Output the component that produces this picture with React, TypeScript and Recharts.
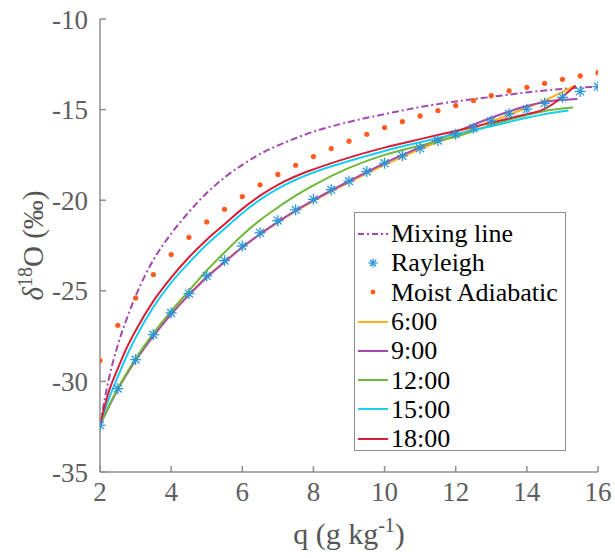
import React from 'react';
import { ComposedChart, Line, XAxis, YAxis, Legend, Label } from 'recharts';

// q grid used by the Rayleigh and moist adiabatic curves (g/kg)
const qHalf = [2, 2.5, 3, 3.5, 4, 4.5, 5, 5.5, 6, 6.5, 7, 7.5, 8, 8.5, 9, 9.5, 10, 10.5, 11, 11.5, 12, 12.5, 13, 13.5, 14, 14.5, 15, 15.5, 16];
const rayleigh = [-32.42, -30.4, -28.8, -27.42, -26.22, -25.15, -24.18, -23.33, -22.53, -21.8, -21.13, -20.53, -19.95, -19.42, -18.95, -18.42, -17.96, -17.55, -17.13, -16.71, -16.36, -16.02, -15.63, -15.24, -14.98, -14.65, -14.32, -14.0, -13.73];
const moistAdiabatic = [-28.85, -26.9, -25.4, -24.1, -23.0, -22.05, -21.2, -20.5, -19.8, -19.15, -18.58, -18.07, -17.59, -17.15, -16.74, -16.36, -15.99, -15.66, -15.35, -15.05, -14.78, -14.5, -14.23, -13.97, -13.77, -13.55, -13.33, -13.14, -12.96];

const mixQ = [2, 2.25, 2.5, 2.75, 3, 3.5, 4, 4.5, 5, 5.5, 6, 6.5, 7, 7.5, 8, 8.5, 9, 10, 11, 12, 13, 14, 15, 16];
const mixD = [-32.4, -29.85, -28.0, -26.55, -25.3, -23.3, -21.85, -20.65, -19.6, -18.75, -18.05, -17.45, -16.98, -16.58, -16.22, -15.93, -15.68, -15.25, -14.86, -14.55, -14.3, -14.05, -13.86, -13.73];

const q06 = [2, 2.5, 3, 3.5, 4, 4.5, 5, 5.5, 6, 7, 8, 9, 10, 11, 12, 13, 14, 14.5, 15.35];
const d06 = [-32.4, -30.42, -28.82, -27.45, -26.25, -25.2, -24.23, -23.38, -22.6, -21.22, -20.05, -19.02, -18.05, -17.18, -16.4, -15.65, -14.9, -14.5, -13.68];

const q09 = [2, 2.5, 3, 3.5, 4, 4.5, 5, 5.5, 6, 7, 8, 9, 10, 11, 12, 13, 14, 14.5, 15, 15.42];
const d09 = [-32.4, -30.45, -28.85, -27.5, -26.3, -25.24, -24.27, -23.42, -22.6, -21.2, -20.0, -18.95, -17.95, -17.08, -16.24, -15.45, -14.8, -14.58, -14.46, -14.41];

const q12 = [2, 2.5, 3, 3.5, 4, 4.5, 5, 5.5, 6, 6.5, 7, 7.5, 8, 9, 10, 11, 12, 13, 14, 14.5, 15.3];
const d12 = [-32.4, -30.4, -28.75, -27.35, -26.12, -25.0, -23.88, -22.88, -21.93, -21.1, -20.4, -19.75, -19.18, -18.22, -17.5, -16.98, -16.5, -15.85, -15.3, -15.08, -14.89];

const q15 = [2, 2.25, 2.5, 2.75, 3, 3.5, 4, 4.5, 5, 5.5, 6, 6.5, 7, 7.5, 8, 9, 10, 11, 12, 13, 14, 14.5, 15.17];
const d15 = [-32.4, -30.95, -29.75, -28.6, -27.6, -25.9, -24.55, -23.45, -22.45, -21.58, -20.72, -19.97, -19.36, -18.87, -18.47, -17.84, -17.28, -16.8, -16.35, -15.92, -15.45, -15.25, -15.05];

const q18 = [2, 2.25, 2.5, 2.75, 3, 3.5, 4, 4.5, 5, 5.5, 6, 6.5, 7, 7.5, 8, 9, 10, 11, 12, 13, 14, 14.37, 15.37];
const d18 = [-32.4, -30.55, -29.3, -28.15, -27.2, -25.57, -24.27, -23.15, -22.18, -21.33, -20.48, -19.75, -19.15, -18.68, -18.3, -17.65, -17.1, -16.63, -16.18, -15.72, -15.25, -15.07, -13.67];

const xTicks = [2, 4, 6, 8, 10, 12, 14, 16];
const yTicks = [-35, -30, -25, -20, -15, -10];

const zip = (qs: number[], ds: number[]) => qs.map((q, i) => ({ q, d: ds[i] }));

const FONT = '"Liberation Serif", "Times New Roman", serif';
const AXIS = '#8e8e8e';
const TICK_TEXT = '#5e5e5e';

const MIX_COLOR = '#a548b0';
const RAYLEIGH_COLOR = '#2996d8';
const MOIST_COLOR = '#ff5a1f';

const timeSeries = [
  { name: '6:00', color: '#ffb21a', data: zip(q06, d06) },
  { name: '9:00', color: '#a548b0', data: zip(q09, d09) },
  { name: '12:00', color: '#6fb83a', data: zip(q12, d12) },
  { name: '15:00', color: '#18cdf2', data: zip(q15, d15) },
  { name: '18:00', color: '#d81e36', data: zip(q18, d18) },
];

const Star = ({ cx, cy, r = 5.5 }: { cx: number; cy: number; r?: number }) => {
  const d = r * 0.71;
  return (
    <g stroke={RAYLEIGH_COLOR} strokeWidth={1.3}>
      <line x1={cx - r} y1={cy} x2={cx + r} y2={cy} />
      <line x1={cx} y1={cy - r} x2={cx} y2={cy + r} />
      <line x1={cx - d} y1={cy - d} x2={cx + d} y2={cy + d} />
      <line x1={cx - d} y1={cy + d} x2={cx + d} y2={cy - d} />
    </g>
  );
};

const YTitle = (props: any) => {
  const vb = props.viewBox;
  const cx = vb.x + 43;
  const cy = vb.y + vb.height / 2;
  return (
    <text x={cx} y={cy} transform={`rotate(-90, ${cx}, ${cy})`} textAnchor="middle"
      fontFamily={FONT} fontSize={29} fill="#555">
      <tspan fontStyle="italic">δ</tspan>
      <tspan dy={-11} fontSize={20}>18</tspan>
      <tspan dy={11}>O (‰)</tspan>
    </text>
  );
};

const XTitle = (props: any) => {
  const vb = props.viewBox;
  const cx = vb.x + vb.width / 2;
  return (
    <text x={cx} y={vb.y + 72} textAnchor="middle" fontFamily={FONT} fontSize={30} fill="#555">
      <tspan>q (g kg</tspan>
      <tspan dy={-12} fontSize={20}>-1</tspan>
      <tspan dy={12}>)</tspan>
    </text>
  );
};

const LegendBox = () => {
  const rows: { name: string; icon: React.ReactNode }[] = [
    { name: 'Mixing line', icon: <line x1={3} y1={15} x2={33} y2={15} stroke={MIX_COLOR} strokeWidth={2} strokeDasharray="6 3 2 3" /> },
    { name: 'Rayleigh', icon: <Star cx={18} cy={15} r={4.5} /> },
    { name: 'Moist Adiabatic', icon: <circle cx={18} cy={15} r={2.4} fill={MOIST_COLOR} /> },
    ...timeSeries.map((s) => ({
      name: s.name,
      icon: <line x1={3} y1={15} x2={33} y2={15} stroke={s.color} strokeWidth={2} />,
    })),
  ];
  return (
    <div style={{ width: 212, height: 239, border: '1.5px solid #8e8e8e', background: '#fff', paddingTop: 6, boxSizing: 'border-box' }}>
      {rows.map((r) => (
        <div key={r.name} style={{ display: 'flex', alignItems: 'center', height: 29.3 }}>
          <svg width={36} height={30} style={{ flex: 'none' }}>{r.icon}</svg>
          <span style={{ fontFamily: FONT, fontSize: 26, color: '#000', lineHeight: '29px', whiteSpace: 'nowrap' }}>{r.name}</span>
        </div>
      ))}
    </div>
  );
};

export default function App() {
  return (
    <div style={{ position: 'absolute', left: 0, top: 0, width: 615, height: 558, background: '#fff' }}>
      <ComposedChart width={615} height={558} margin={{ top: 19, right: 17, bottom: 36, left: 0 }}>
        <XAxis dataKey="q" type="number" domain={[2, 16]} ticks={xTicks} interval={0} allowDataOverflow
          height={50} stroke={AXIS} strokeWidth={1.5} tickSize={-6} tickMargin={16}
          tick={{ fill: TICK_TEXT, fontSize: 27, fontFamily: FONT }}>
          <Label content={XTitle} />
        </XAxis>
        <XAxis xAxisId="top" orientation="top" type="number" domain={[2, 16]} ticks={xTicks} interval={0}
          height={0} stroke={AXIS} strokeWidth={1.5} tickSize={-6} tick={false} />
        <YAxis type="number" domain={[-35, -10]} ticks={yTicks} interval={0} allowDataOverflow
          width={100} stroke={AXIS} strokeWidth={1.5} tickSize={-6} tickMargin={18}
          tick={{ fill: TICK_TEXT, fontSize: 27, fontFamily: FONT }}>
          <Label content={YTitle} />
        </YAxis>
        <YAxis yAxisId="right" orientation="right" type="number" domain={[-35, -10]} ticks={yTicks} interval={0}
          width={0} stroke={AXIS} strokeWidth={1.5} tickSize={-6} tick={false} />

        <Line data={zip(mixQ, mixD)} dataKey="d" type="monotone" stroke={MIX_COLOR} strokeWidth={2}
          strokeDasharray="7 3 2 3" dot={false} activeDot={false} isAnimationActive={false} />
        <Line data={zip(qHalf, rayleigh)} dataKey="d" stroke="none" activeDot={false} isAnimationActive={false}
          dot={(p: any) => <Star key={`r-${p.index}`} cx={p.cx} cy={p.cy} />} />
        <Line data={zip(qHalf, moistAdiabatic)} dataKey="d" stroke="none" activeDot={false} isAnimationActive={false}
          dot={(p: any) => <circle key={`m-${p.index}`} cx={p.cx} cy={p.cy} r={2.6} fill={MOIST_COLOR} />} />
        {timeSeries.map((s) => (
          <Line key={s.name} data={s.data} dataKey="d" type="monotone" stroke={s.color} strokeWidth={2}
            dot={false} activeDot={false} isAnimationActive={false} />
        ))}
        <Legend content={LegendBox} layout="vertical" align="center" verticalAlign="middle"
          wrapperStyle={{ left: 354, top: 212, width: 212, height: 239 }} />
      </ComposedChart>
    </div>
  );
}
